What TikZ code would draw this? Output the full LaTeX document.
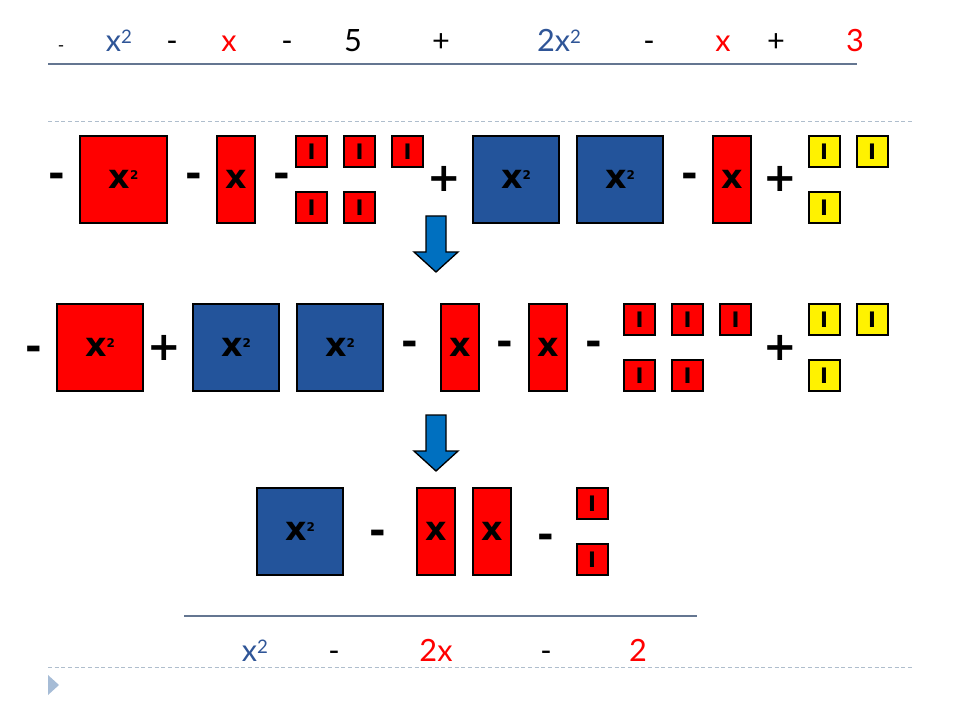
\documentclass[tikz,border=0pt]{standalone}
\usepackage{fontspec}
\setmainfont{Lato}
\newfontfamily\tilefont{DejaVu Sans}
\usepackage{tikz}
\definecolor{tileblue}{RGB}{35,84,155}
\definecolor{txtblue}{RGB}{47,85,151}
\definecolor{arrowblue}{RGB}{0,112,192}
\definecolor{rule}{RGB}{100,118,145}
\definecolor{dashrule}{RGB}{175,190,205}
\definecolor{bullet}{RGB}{166,188,214}
\newcommand{\tsq}{x\raisebox{6.5pt}{\fontsize{9}{9}\selectfont 2}}
\newcommand{\esq}{x\raisebox{6pt}{\fontsize{14}{14}\selectfont 2}}

\begin{document}
\begin{tikzpicture}[x=0.75pt, y=-0.75pt,
	tile/.style={draw, line width=1.5pt, inner sep=0pt, font=\tilefont\bfseries\fontsize{25}{25}\selectfont},
	bigred/.style={tile, fill=red, minimum size=65pt},
	bigblue/.style={tile, fill=tileblue, minimum size=65pt},
	xtile/.style={tile, fill=red, minimum width=28.5pt, minimum height=65pt},
	unitred/.style={tile, fill=red, minimum size=23.25pt, font=\tilefont\bfseries\fontsize{16}{16}\selectfont},
	unityel/.style={unitred, fill=yellow},
	sign/.style={anchor=base, inner sep=0pt, font=\tilefont\bfseries\fontsize{30}{30}\selectfont},
	eq/.style={anchor=base, inner sep=0pt, font=\fontsize{23}{27}\selectfont}]
\useasboundingbox (0,0) rectangle (960,720);
% top expression
\node[eq, font=\fontsize{13}{13}\selectfont] (e1) at (61,52) {-};
\node[eq, text=txtblue] (e2) at (119,52) {\esq};
\node[eq] (e3) at (172,52) {-};
\node[eq, text=red] (e4) at (229,52) {x};
\node[eq] (e5) at (287,52) {-};
\node[eq] (e6) at (353,52) {5};
\node[eq] (e7) at (441,52) {+};
\node[eq, text=txtblue] (e8) at (559,52) {2\esq};
\node[eq] (e9) at (649,52) {-};
\node[eq, text=red] (e10) at (723,52) {x};
\node[eq] (e11) at (776,52) {+};
\node[eq, text=red] (e12) at (855,52) {3};
\draw[rule, line width=1.1pt] (48,64) -- (857,64);
\draw[dashrule, line width=0.6pt, dash pattern=on 3pt off 2pt] (48,121) -- (913,121);
% first row of tiles
\node[bigred] (a1) at (123.5,179.5) {\tsq};
\node[xtile] (a2) at (236,179.5) {x};
\foreach \x/\y [count=\i] in {311.5/151.5, 359.5/151.5, 407.5/151.5, 311.5/208, 359.5/208}
	\node[unitred] (a3\i) at (\x,\y) {I};
\node[bigblue] (a4) at (516,179.5) {\tsq};
\node[bigblue] (a5) at (620,179.5) {\tsq};
\node[xtile] (a6) at (732,179.5) {x};
\foreach \x/\y [count=\i] in {824/151.5, 872/151.5, 824/208}
	\node[unityel] (a7\i) at (\x,\y) {I};
\foreach \x [count=\i] in {57,193.5,281.5,689.5}
	\node[sign] (am\i) at (\x,188) {-};
\foreach \x [count=\i] in {444,780.5}
	\node[sign] (ap\i) at (\x,192) {+};
% arrows
\foreach \t in {216,415}
	\draw[fill=arrowblue, line width=1pt] (426,\t) -- (446,\t) -- (446,\t+36) -- (458,\t+36)
		-- (436,\t+56) -- (414,\t+36) -- (426,\t+36) -- cycle;
% second row of tiles
\node[bigred] (b1) at (100,347.5) {\tsq};
\node[bigblue] (b2) at (236,347.5) {\tsq};
\node[bigblue] (b3) at (340,347.5) {\tsq};
\node[xtile] (b4) at (460,347.5) {x};
\node[xtile] (b5) at (548,347.5) {x};
\foreach \x/\y [count=\i] in {639.5/319.5, 687.5/319.5, 735.5/319.5, 639.5/375.5, 687.5/375.5}
	\node[unitred] (b6\i) at (\x,\y) {I};
\foreach \x/\y [count=\i] in {824/319.5, 872/319.5, 824/375.5}
	\node[unityel] (b7\i) at (\x,\y) {I};
\node[sign] (bm1) at (33.5,360) {-};
\foreach \x [count=\i] in {409.5,505,593.5}
	\node[sign] (bm\i) at (\x,355) {-};
\foreach \x [count=\i] in {164.5,780.5}
	\node[sign] (bp\i) at (\x,360) {+};
% third row of tiles
\node[bigblue] (c1) at (300,531.5) {\tsq};
\node[xtile] (c2) at (436,531.5) {x};
\node[xtile] (c3) at (492,531.5) {x};
\node[unitred] (c4) at (592,503.5) {I};
\node[unitred] (c5) at (592,559.5) {I};
\node[sign] (cm1) at (377.5,544) {-};
\node[sign] (cm2) at (545.5,548) {-};
% result
\draw[rule, line width=1.1pt] (184,616) -- (697,616);
\node[eq, text=txtblue] (f1) at (255,661) {\esq};
\node[eq] (f2) at (334,661) {-};
\node[eq, text=red] (f3) at (436,661) {2x};
\node[eq] (f4) at (546,661) {-};
\node[eq, text=red] (f5) at (638,661) {2};
\draw[dashrule, line width=0.6pt, dash pattern=on 3pt off 2pt] (48,667) -- (913,667);
\fill[bullet] (48,675) -- (59,685) -- (48,695) -- cycle;
\end{tikzpicture}
\end{document}
